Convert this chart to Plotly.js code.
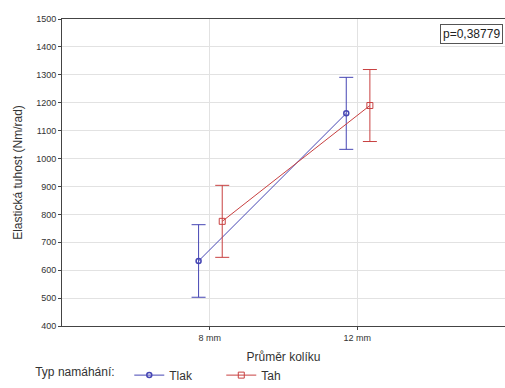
<!DOCTYPE html>
<html><head><meta charset="utf-8">
<script src="https://cdn.plot.ly/plotly-3.0.1.min.js"></script>
<style>body{margin:0;background:#fff}#c{width:505px;height:388px}</style>
</head><body><div id="c"></div>
<script>
const categories = ['8 mm', '12 mm'];
const catPos = [1, 2];
const tlakMean = [633, 1162];
const tlakErr = [130, 129];
const tahMean = [775, 1190];
const tahErr = [129, 129];
const yTicks = [400,500,600,700,800,900,1000,1100,1200,1300,1400,1500];
const pText = 'p=0,38779';

const blue = '#4646b4', red = '#c84040';
const traces = [
  {x: catPos.map(v => v - 0.075), y: tlakMean, name: 'Tlak', type: 'scatter', mode: 'lines+markers',
   line: {color: blue, width: 1}, marker: {symbol: 'circle-open', size: 5, color: blue, line: {width: 1.5}},
   error_y: {type: 'data', array: tlakErr, visible: true, color: blue, thickness: 1, width: 7}},
  {x: catPos.map(v => v + 0.085), y: tahMean, name: 'Tah', type: 'scatter', mode: 'lines+markers',
   line: {color: red, width: 1}, marker: {symbol: 'square-open', size: 6, color: red, line: {width: 1}},
   error_y: {type: 'data', array: tahErr, visible: true, color: red, thickness: 1, width: 7}}
];
const layout = {
  width: 505, height: 388,
  margin: {l: 62, r: 0, t: 19, b: 62, autoexpand: false},
  paper_bgcolor: '#fff', plot_bgcolor: '#fff',
  font: {family: 'Liberation Sans, Arial, sans-serif', color: '#333', size: 10},
  xaxis: {range: [0, 3], tickvals: catPos, ticktext: categories, showgrid: true, gridcolor: '#e2e2e2',
    showline: true, linecolor: '#444', linewidth: 1, mirror: true, ticks: 'outside', ticklen: 3, tickcolor: '#444',
    zeroline: false, tickfont: {size: 9}, automargin: false,
    title: {text: 'Průměr kolíku', font: {size: 12}, standoff: 10}},
  yaxis: {range: [400, 1500], tickvals: yTicks, showgrid: true, gridcolor: '#e2e2e2',
    showline: true, linecolor: '#444', linewidth: 1, mirror: true, ticks: 'outside', ticklen: 3, tickcolor: '#444',
    zeroline: false, tickfont: {size: 9}, automargin: false,
    title: {text: 'Elastická tuhost (Nm/rad)', font: {size: 12}, standoff: 10}},
  showlegend: true,
  legend: {orientation: 'h', x: -0.065, xanchor: 'left', y: -0.16, yanchor: 'middle',
    title: {text: 'Typ namáhání:  ', side: 'left', font: {size: 12}}, font: {size: 12}, itemwidth: 30,
    entrywidth: 47, entrywidthmode: 'pixels'},
  annotations: [{text: pText, xref: 'paper', yref: 'paper', x: 0.995, y: 0.985, xanchor: 'right', yanchor: 'top',
    showarrow: false, font: {size: 12, color: '#222'}, bordercolor: '#555', borderwidth: 1, borderpad: 2, bgcolor: '#fff'}]
};
Plotly.newPlot('c', traces, layout, {displayModeBar: false, staticPlot: true});
</script></body></html>
